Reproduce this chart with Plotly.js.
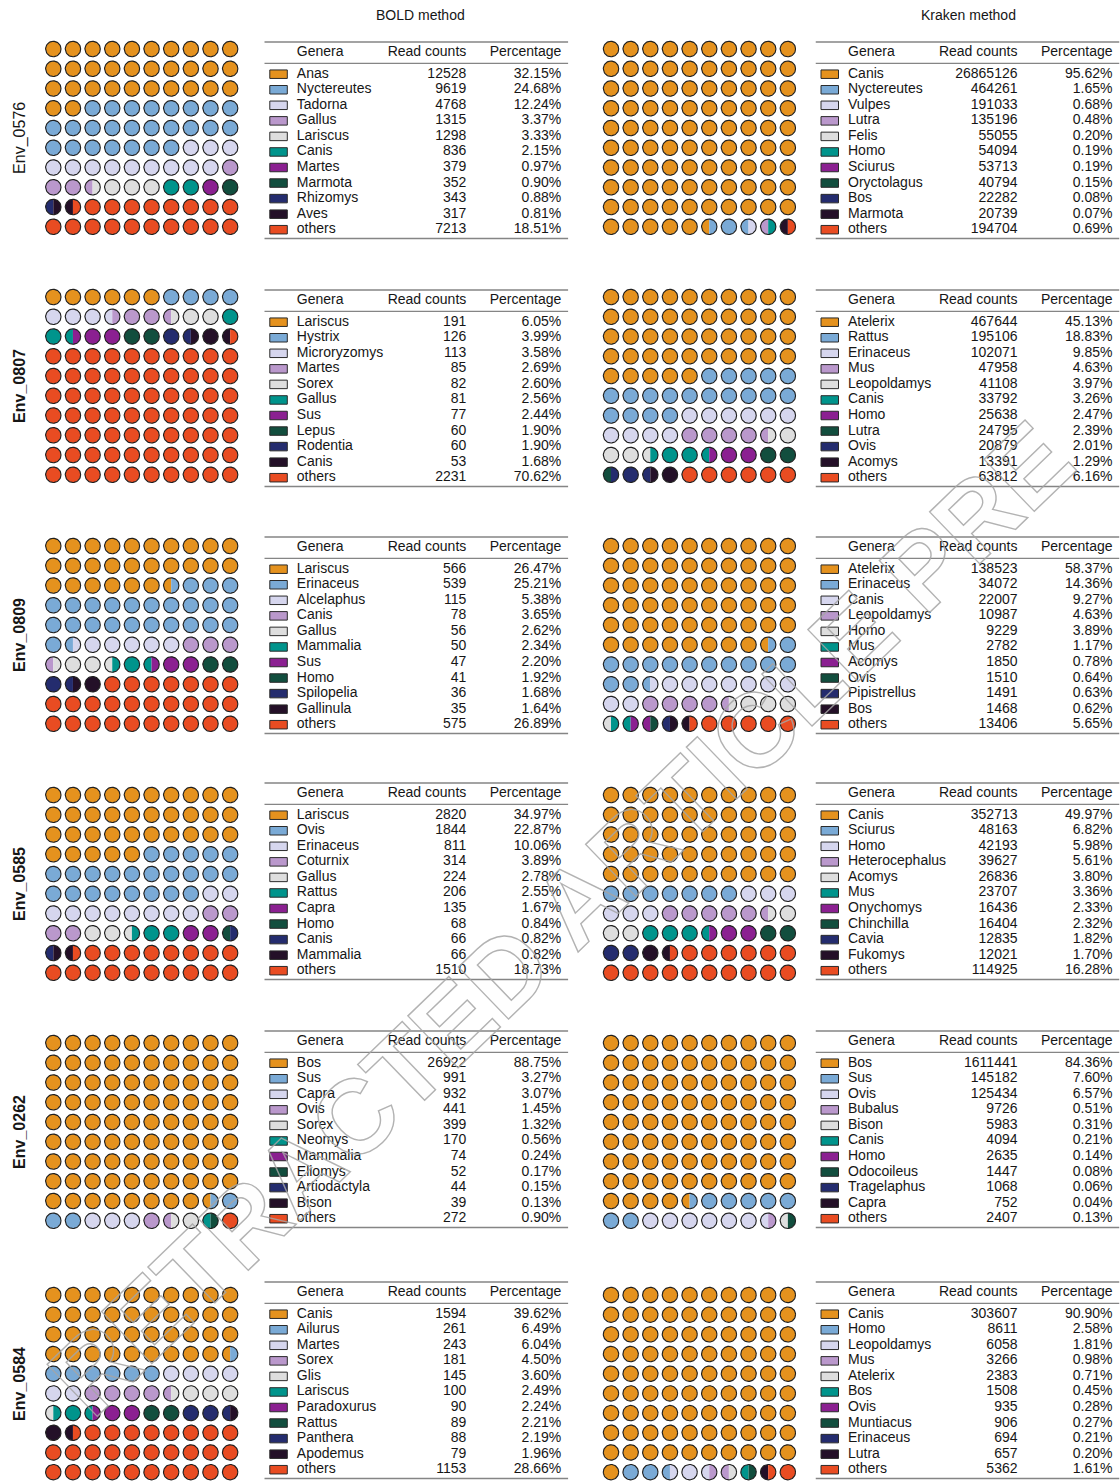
<!DOCTYPE html>
<html>
<head>
<meta charset="utf-8">
<script src="https://cdn.plot.ly/plotly-3.0.1.min.js"></script>
<style>
  html, body { margin: 0; padding: 0; background: #ffffff; }
  #fig { width: 1120px; height: 1481px; }
</style>
</head>
<body>
<div id="fig"></div>
<script>
// Top-10 genera (plus "others") per environmental sample, BOLD vs Kraken classification.

const samples = ['Env_0576', 'Env_0807', 'Env_0809', 'Env_0585', 'Env_0262', 'Env_0584'];

// ---------- Env_0576 ----------
const bold0576Genera = ['Anas', 'Nyctereutes', 'Tadorna', 'Gallus', 'Lariscus', 'Canis', 'Martes', 'Marmota', 'Rhizomys', 'Aves', 'others'];
const bold0576Reads  = [12528, 9619, 4768, 1315, 1298, 836, 379, 352, 343, 317, 7213];
const bold0576Pct    = [32.15, 24.68, 12.24, 3.37, 3.33, 2.15, 0.97, 0.90, 0.88, 0.81, 18.51];
const kraken0576Genera = ['Canis', 'Nyctereutes', 'Vulpes', 'Lutra', 'Felis', 'Homo', 'Sciurus', 'Oryctolagus', 'Bos', 'Marmota', 'others'];
const kraken0576Reads  = [26865126, 464261, 191033, 135196, 55055, 54094, 53713, 40794, 22282, 20739, 194704];
const kraken0576Pct    = [95.62, 1.65, 0.68, 0.48, 0.20, 0.19, 0.19, 0.15, 0.08, 0.07, 0.69];

// ---------- Env_0807 ----------
const bold0807Genera = ['Lariscus', 'Hystrix', 'Microryzomys', 'Martes', 'Sorex', 'Gallus', 'Sus', 'Lepus', 'Rodentia', 'Canis', 'others'];
const bold0807Reads  = [191, 126, 113, 85, 82, 81, 77, 60, 60, 53, 2231];
const bold0807Pct    = [6.05, 3.99, 3.58, 2.69, 2.60, 2.56, 2.44, 1.90, 1.90, 1.68, 70.62];
const kraken0807Genera = ['Atelerix', 'Rattus', 'Erinaceus', 'Mus', 'Leopoldamys', 'Canis', 'Homo', 'Lutra', 'Ovis', 'Acomys', 'others'];
const kraken0807Reads  = [467644, 195106, 102071, 47958, 41108, 33792, 25638, 24795, 20879, 13391, 63812];
const kraken0807Pct    = [45.13, 18.83, 9.85, 4.63, 3.97, 3.26, 2.47, 2.39, 2.01, 1.29, 6.16];

// ---------- Env_0809 ----------
const bold0809Genera = ['Lariscus', 'Erinaceus', 'Alcelaphus', 'Canis', 'Gallus', 'Mammalia', 'Sus', 'Homo', 'Spilopelia', 'Gallinula', 'others'];
const bold0809Reads  = [566, 539, 115, 78, 56, 50, 47, 41, 36, 35, 575];
const bold0809Pct    = [26.47, 25.21, 5.38, 3.65, 2.62, 2.34, 2.20, 1.92, 1.68, 1.64, 26.89];
const kraken0809Genera = ['Atelerix', 'Erinaceus', 'Canis', 'Leopoldamys', 'Homo', 'Mus', 'Acomys', 'Ovis', 'Pipistrellus', 'Bos', 'others'];
const kraken0809Reads  = [138523, 34072, 22007, 10987, 9229, 2782, 1850, 1510, 1491, 1468, 13406];
const kraken0809Pct    = [58.37, 14.36, 9.27, 4.63, 3.89, 1.17, 0.78, 0.64, 0.63, 0.62, 5.65];

// ---------- Env_0585 ----------
const bold0585Genera = ['Lariscus', 'Ovis', 'Erinaceus', 'Coturnix', 'Gallus', 'Rattus', 'Capra', 'Homo', 'Canis', 'Mammalia', 'others'];
const bold0585Reads  = [2820, 1844, 811, 314, 224, 206, 135, 68, 66, 66, 1510];
const bold0585Pct    = [34.97, 22.87, 10.06, 3.89, 2.78, 2.55, 1.67, 0.84, 0.82, 0.82, 18.73];
const kraken0585Genera = ['Canis', 'Sciurus', 'Homo', 'Heterocephalus', 'Acomys', 'Mus', 'Onychomys', 'Chinchilla', 'Cavia', 'Fukomys', 'others'];
const kraken0585Reads  = [352713, 48163, 42193, 39627, 26836, 23707, 16436, 16404, 12835, 12021, 114925];
const kraken0585Pct    = [49.97, 6.82, 5.98, 5.61, 3.80, 3.36, 2.33, 2.32, 1.82, 1.70, 16.28];

// ---------- Env_0262 ----------
const bold0262Genera = ['Bos', 'Sus', 'Capra', 'Ovis', 'Sorex', 'Neomys', 'Mammalia', 'Eliomys', 'Artiodactyla', 'Bison', 'others'];
const bold0262Reads  = [26922, 991, 932, 441, 399, 170, 74, 52, 44, 39, 272];
const bold0262Pct    = [88.75, 3.27, 3.07, 1.45, 1.32, 0.56, 0.24, 0.17, 0.15, 0.13, 0.90];
const kraken0262Genera = ['Bos', 'Sus', 'Ovis', 'Bubalus', 'Bison', 'Canis', 'Homo', 'Odocoileus', 'Tragelaphus', 'Capra', 'others'];
const kraken0262Reads  = [1611441, 145182, 125434, 9726, 5983, 4094, 2635, 1447, 1068, 752, 2407];
const kraken0262Pct    = [84.36, 7.60, 6.57, 0.51, 0.31, 0.21, 0.14, 0.08, 0.06, 0.04, 0.13];

// ---------- Env_0584 ----------
const bold0584Genera = ['Canis', 'Ailurus', 'Martes', 'Sorex', 'Glis', 'Lariscus', 'Paradoxurus', 'Rattus', 'Panthera', 'Apodemus', 'others'];
const bold0584Reads  = [1594, 261, 243, 181, 145, 100, 90, 89, 88, 79, 1153];
const bold0584Pct    = [39.62, 6.49, 6.04, 4.50, 3.60, 2.49, 2.24, 2.21, 2.19, 1.96, 28.66];
const kraken0584Genera = ['Canis', 'Homo', 'Leopoldamys', 'Mus', 'Atelerix', 'Bos', 'Ovis', 'Muntiacus', 'Erinaceus', 'Lutra', 'others'];
const kraken0584Reads  = [303607, 8611, 6058, 3266, 2383, 1508, 935, 906, 694, 657, 5362];
const kraken0584Pct    = [90.90, 2.58, 1.81, 0.98, 0.71, 0.45, 0.28, 0.27, 0.21, 0.20, 1.61];

const methodTitles = ['BOLD method', 'Kraken method'];
const tableHeader = ['Genera', 'Read counts', 'Percentage'];
const stampText = 'RETRACTED ARTICLE PRE';

// rank colours: rank 1..10, then "others"
const rankColors = ['#E5921E', '#7AAAD6', '#D6D6EE', '#BA98CC', '#DEDEDE', '#00948C',
                    '#8B2091', '#124E3E', '#242C6E', '#241028', '#E94C22'];

// ---------- page geometry (pixels) ----------
const W = 1120, H = 1481;
const FONT = 'Liberation Sans, Arial, Helvetica, sans-serif';
const INK = '#161616';
const circleTopY = [49, 297, 546, 795, 1043, 1295];   // centre of the first waffle row
const tableTopY  = [42, 290, 537, 783, 1031, 1282];   // top rule of each table
const waffleFirstX = [53.3, 611];                     // centre of the first waffle column
const tableLeftX = [264.3, 815.5];
const TABLE_W = 304;
const CELL_X = 19.65, CELL_Y = 19.75, RADIUS = 7.7;
const TB = { swatchX: 5.5, swatchW: 17.5, swatchH: 8.5, nameX: 32.5, readsX: 202, pctX: 297,
             headerY: 10.5, midRuleY: 21.4, firstRowY: 32.2, rowStep: 15.55, bottomRuleY: 196.5 };

const byMethod = [
  { genera: [bold0576Genera, bold0807Genera, bold0809Genera, bold0585Genera, bold0262Genera, bold0584Genera],
    reads:  [bold0576Reads,  bold0807Reads,  bold0809Reads,  bold0585Reads,  bold0262Reads,  bold0584Reads],
    pct:    [bold0576Pct,    bold0807Pct,    bold0809Pct,    bold0585Pct,    bold0262Pct,    bold0584Pct] },
  { genera: [kraken0576Genera, kraken0807Genera, kraken0809Genera, kraken0585Genera, kraken0262Genera, kraken0584Genera],
    reads:  [kraken0576Reads,  kraken0807Reads,  kraken0809Reads,  kraken0585Reads,  kraken0262Reads,  kraken0584Reads],
    pct:    [kraken0576Pct,    kraken0807Pct,    kraken0809Pct,    kraken0585Pct,    kraken0262Pct,    kraken0584Pct] }
];

const data = [];
const layout = {
  width: W, height: H,
  margin: { l: 0, r: 0, t: 0, b: 0, pad: 0 },
  paper_bgcolor: '#ffffff', plot_bgcolor: 'rgba(0,0,0,0)',
  showlegend: false, hovermode: false,
  font: { family: FONT, size: 14, color: INK },
  shapes: [], annotations: []
};

let axisCount = 0;
function addAxes(px0, px1, py0, py1, xRange, yRange) {
  axisCount += 1;
  const sfx = axisCount === 1 ? '' : String(axisCount);
  layout['xaxis' + sfx] = { domain: [Math.max(0, px0 / W), Math.min(1, px1 / W)], range: xRange,
                            visible: false, fixedrange: true, anchor: 'y' + sfx };
  layout['yaxis' + sfx] = { domain: [Math.max(0, 1 - py1 / H), Math.min(1, 1 - py0 / H)], range: yRange,
                            visible: false, fixedrange: true, anchor: 'x' + sfx };
  return { x: 'x' + sfx, y: 'y' + sfx };
}

// Each circle holds 1 %, split into two halves of 0.5 %; cumulative shares are rounded to the half.
function halfSlots(reads) {
  const total = reads.reduce((a, b) => a + b, 0);
  let cum = 0;
  const bounds = reads.map(v => { cum += v; return Math.round(cum / total * 200); });
  const slots = [];
  let k = 0;
  for (let h = 0; h < 200; h++) {
    while (k < bounds.length - 1 && h >= bounds[k]) k++;
    slots.push(k);
  }
  return slots;
}

const RX = RADIUS / CELL_X, RY = RADIUS / CELL_Y;
function pushArc(bucket, cx, cy, t0, t1, n) {
  for (let i = 0; i <= n; i++) {
    const t = t0 + (t1 - t0) * i / n;
    bucket.x.push(cx + RX * Math.cos(t));
    bucket.y.push(cy + RY * Math.sin(t));
  }
  bucket.x.push(null); bucket.y.push(null);
}

function drawWaffle(reads, ax) {
  const slots = halfSlots(reads);
  const fills = rankColors.map(() => ({ x: [], y: [] }));
  const ring = { x: [], y: [] };
  for (let j = 0; j < 100; j++) {
    const col = j % 10, row = Math.floor(j / 10);
    const left = slots[2 * j], right = slots[2 * j + 1];
    if (left === right) {
      pushArc(fills[left], col, row, 0, 2 * Math.PI, 48);
    } else {
      pushArc(fills[left], col, row, Math.PI / 2, 3 * Math.PI / 2, 24);
      pushArc(fills[right], col, row, -Math.PI / 2, Math.PI / 2, 24);
    }
    pushArc(ring, col, row, 0, 2 * Math.PI, 48);
  }
  fills.forEach((f, k) => {
    if (!f.x.length) return;
    data.push({ type: 'scatter', mode: 'lines', x: f.x, y: f.y, xaxis: ax.x, yaxis: ax.y,
                fill: 'toself', fillcolor: rankColors[k], line: { width: 0, color: rankColors[k] },
                hoverinfo: 'skip', showlegend: false });
  });
  data.push({ type: 'scatter', mode: 'lines', x: ring.x, y: ring.y, xaxis: ax.x, yaxis: ax.y,
              line: { width: 1.15, color: '#202020' }, hoverinfo: 'skip', showlegend: false });
}

function textTrace(ax, xs, ys, texts, pos) {
  data.push({ type: 'scatter', mode: 'text', x: xs, y: ys, text: texts, textposition: pos,
              xaxis: ax.x, yaxis: ax.y, cliponaxis: false, hoverinfo: 'skip', showlegend: false,
              textfont: { family: FONT, size: 14, color: INK } });
}

function drawTable(genera, reads, pct, ax) {
  const rowY = genera.map((_, i) => TB.firstRowY + i * TB.rowStep);
  // booktabs-style rules
  [[0, 1.7], [TB.midRuleY, 1.4], [TB.bottomRuleY, 1.7]].forEach(([y, w]) => {
    layout.shapes.push({ type: 'line', xref: ax.x, yref: ax.y, x0: 0, x1: TABLE_W, y0: y, y1: y,
                         line: { color: '#858585', width: w } });
  });
  // colour keys
  genera.forEach((g, i) => {
    layout.shapes.push({ type: 'rect', xref: ax.x, yref: ax.y,
                         x0: TB.swatchX, x1: TB.swatchX + TB.swatchW,
                         y0: rowY[i] - TB.swatchH / 2, y1: rowY[i] + TB.swatchH / 2,
                         fillcolor: rankColors[i], line: { color: '#2a2a2a', width: 1 } });
  });
  textTrace(ax, [TB.nameX], [TB.headerY], [tableHeader[0]], 'middle right');
  textTrace(ax, [TB.readsX, TB.pctX], [TB.headerY, TB.headerY], tableHeader.slice(1), 'middle left');
  textTrace(ax, genera.map(() => TB.nameX), rowY, genera, 'middle right');
  textTrace(ax, genera.map(() => TB.readsX), rowY, reads.map(v => String(v)), 'middle left');
  textTrace(ax, genera.map(() => TB.pctX), rowY, pct.map(v => v.toFixed(2) + '%'), 'middle left');
}

samples.forEach((sample, r) => {
  for (let m = 0; m < 2; m++) {
    const src = byMethod[m];
    // waffle: data units = grid cells
    const wx0 = waffleFirstX[m] - 0.45 * CELL_X, wx1 = waffleFirstX[m] + 9.45 * CELL_X;
    const wy0 = circleTopY[r] - 0.45 * CELL_Y, wy1 = circleTopY[r] + 9.45 * CELL_Y;
    const wax = addAxes(wx0, wx1, wy0, wy1, [-0.45, 9.45], [9.45, -0.45]);
    drawWaffle(src.reads[r], wax);
    // table: data units = pixels inside the table box
    const ty0 = tableTopY[r] - 3, ty1 = tableTopY[r] + 199;
    const tax = addAxes(tableLeftX[m], tableLeftX[m] + TABLE_W, ty0, ty1, [0, TABLE_W], [199, -3]);
    drawTable(src.genera[r], src.reads[r], src.pct[r], tax);
  }
  layout.annotations.push({
    xref: 'paper', yref: 'paper', x: 20 / W, y: 1 - (circleTopY[r] + 4.5 * CELL_Y) / H,
    text: sample, showarrow: false, textangle: -90, xanchor: 'center', yanchor: 'middle',
    font: { family: FONT, size: 16, color: INK, weight: r === 0 ? 400 : 700 }
  });
});

methodTitles.forEach((t, m) => {
  layout.annotations.push({
    xref: 'paper', yref: 'paper', x: [420, 968][m] / W, y: 1 - 15 / H, text: t, showarrow: false,
    xanchor: 'center', yanchor: 'middle', font: { family: FONT, size: 14, color: INK }
  });
});

// diagonal outlined stamp across the page
layout.annotations.push({
  xref: 'paper', yref: 'paper', x: 560 / W, y: 1 - 918 / H, showarrow: false,
  xanchor: 'center', yanchor: 'middle', textangle: -44,
  text: '<span style="stroke:rgba(165,165,165,0.85);stroke-width:1.4px;fill:rgba(60,40,20,0.06)">' +
        stampText + '</span>',
  font: { family: FONT, size: 105, weight: 700, color: 'rgba(60,40,20,0.06)' }
});

Plotly.newPlot('fig', data, layout, { staticPlot: true, displayModeBar: false });
</script>
</body>
</html>
